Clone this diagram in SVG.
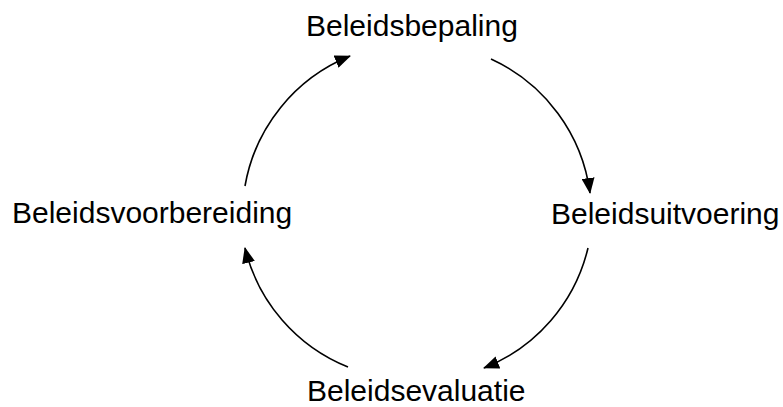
<svg xmlns="http://www.w3.org/2000/svg" width="783" height="407" viewBox="0 0 783 407">
<style>
.lbl{font-family:"Liberation Sans",Arial,sans-serif;font-size:30px;fill:#000}
.arc{fill:none;stroke:#000;stroke-width:1.6}
</style>
<defs>
<marker id="ah" markerUnits="userSpaceOnUse" markerWidth="16" markerHeight="13" refX="15" refY="6.5" orient="auto" viewBox="0 0 16 13">
<path d="M0,0 L16,6.5 L0,13 z" fill="#000"/>
</marker>
</defs>
<rect width="783" height="407" fill="#fff"/>
<g id="connectors">
<path class="arc" d="M491,59 A172,172 0 0 1 590,193" marker-end="url(#ah)"/>
<path class="arc" d="M588,248 A172,172 0 0 1 484,368" marker-end="url(#ah)"/>
<path class="arc" d="M348,367 A172,172 0 0 1 245,248" marker-end="url(#ah)"/>
<path class="arc" d="M245,186 A172,172 0 0 1 350,56" marker-end="url(#ah)"/>
</g>
<g id="node-bepaling"><text class="lbl" x="306" y="36">Beleidsbepaling</text></g>
<g id="node-uitvoering"><text class="lbl" x="551" y="224">Beleidsuitvoering</text></g>
<g id="node-evaluatie"><text class="lbl" x="307" y="401">Beleidsevaluatie</text></g>
<g id="node-voorbereiding"><text class="lbl" x="12" y="223">Beleidsvoorbereiding</text></g>
</svg>
